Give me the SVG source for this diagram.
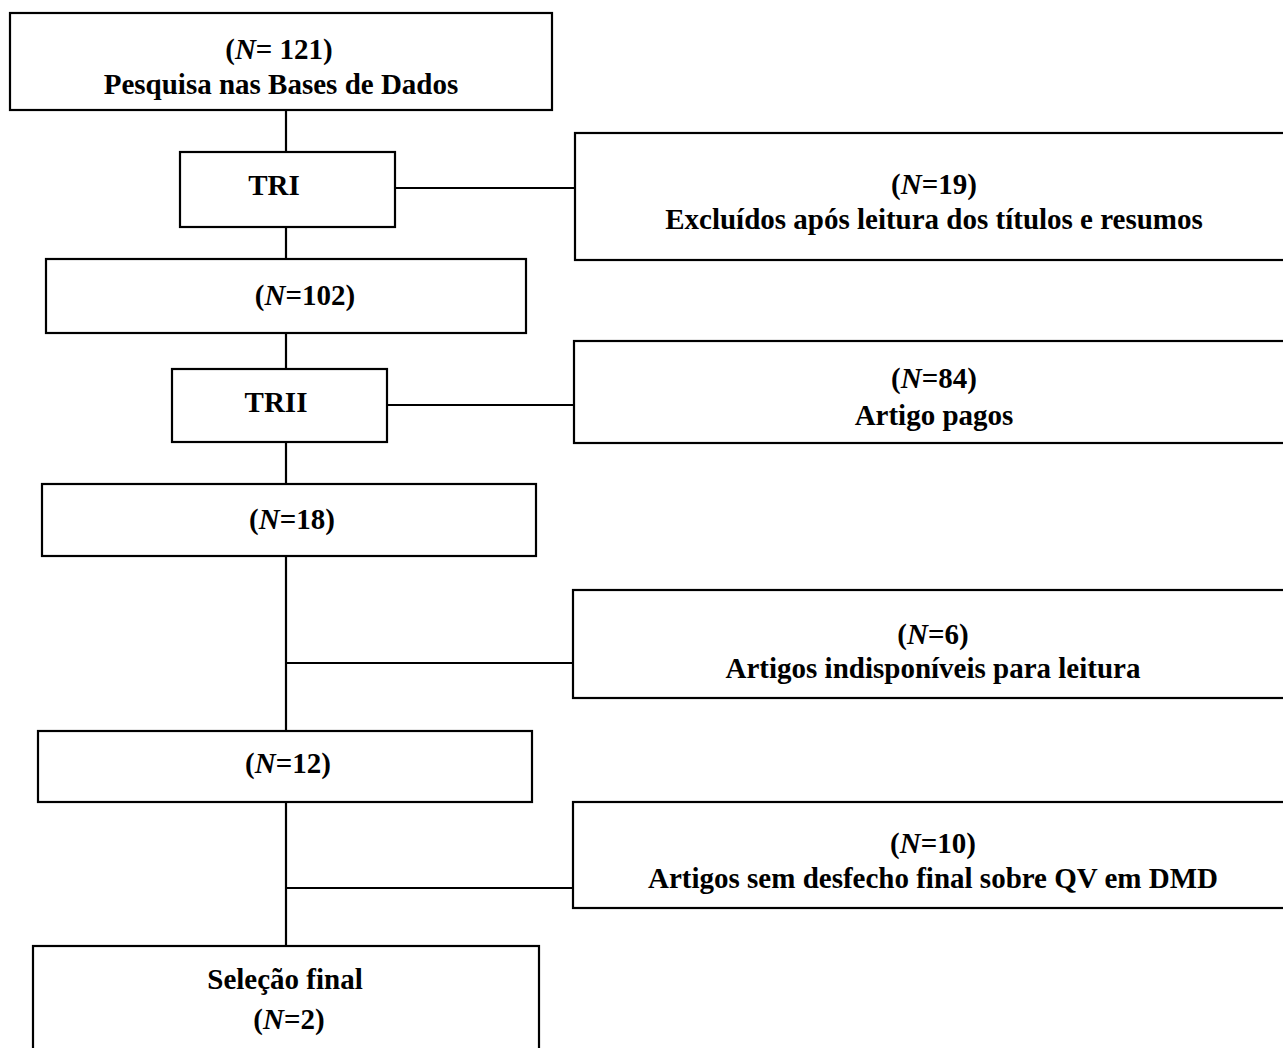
<svg xmlns="http://www.w3.org/2000/svg" width="1283" height="1048" viewBox="0 0 1283 1048">
<style>
.box{fill:#fff;stroke:#000;stroke-width:2.2}
.ln{stroke:#000;stroke-width:2.2;fill:none}
text{font-family:"Liberation Serif","Times New Roman",serif;font-weight:bold;font-size:29px;fill:#000;text-anchor:middle}
.i{font-style:italic}
</style>
<rect width="1283" height="1048" fill="#fff"/>
<g id="connectors">
<path class="ln" d="M286 110V152M286 227V259M286 333V369M286 442V484M286 556V731M286 663H573M286 802V946M286 888H573M395 188H575M387 405H574"/>
</g>
<g id="n1"><rect class="box" x="10" y="13" width="542" height="97"/>
<text x="279" y="59">(<tspan class="i">N</tspan>= 121)</text>
<text x="281" y="94">Pesquisa nas Bases de Dados</text></g>
<g id="tri"><rect class="box" x="180" y="152" width="215" height="75"/>
<text x="274" y="195">TRI</text></g>
<g id="ex1"><rect class="box" x="575" y="133" width="720" height="127"/>
<text x="934" y="194">(<tspan class="i">N</tspan>=19)</text>
<text x="934" y="229">Excluídos após leitura dos títulos e resumos</text></g>
<g id="n102"><rect class="box" x="46" y="259" width="480" height="74"/>
<text x="305" y="305">(<tspan class="i">N</tspan>=102)</text></g>
<g id="trii"><rect class="box" x="172" y="369" width="215" height="73"/>
<text x="276" y="412">TRII</text></g>
<g id="ex2"><rect class="box" x="574" y="341" width="720" height="102"/>
<text x="934" y="388">(<tspan class="i">N</tspan>=84)</text>
<text x="934" y="425">Artigo pagos</text></g>
<g id="n18"><rect class="box" x="42" y="484" width="494" height="72"/>
<text x="292" y="529">(<tspan class="i">N</tspan>=18)</text></g>
<g id="ex3"><rect class="box" x="573" y="590" width="720" height="108"/>
<text x="933" y="644">(<tspan class="i">N</tspan>=6)</text>
<text x="933" y="678">Artigos indisponíveis para leitura</text></g>
<g id="n12"><rect class="box" x="38" y="731" width="494" height="71"/>
<text x="288" y="773">(<tspan class="i">N</tspan>=12)</text></g>
<g id="ex4"><rect class="box" x="573" y="802" width="720" height="106"/>
<text x="933" y="853">(<tspan class="i">N</tspan>=10)</text>
<text x="933" y="888">Artigos sem desfecho final sobre QV em DMD</text></g>
<g id="final"><rect class="box" x="33" y="946" width="506" height="120"/>
<text x="285" y="989">Seleção final</text>
<text x="289" y="1029">(<tspan class="i">N</tspan>=2)</text></g>
</svg>
